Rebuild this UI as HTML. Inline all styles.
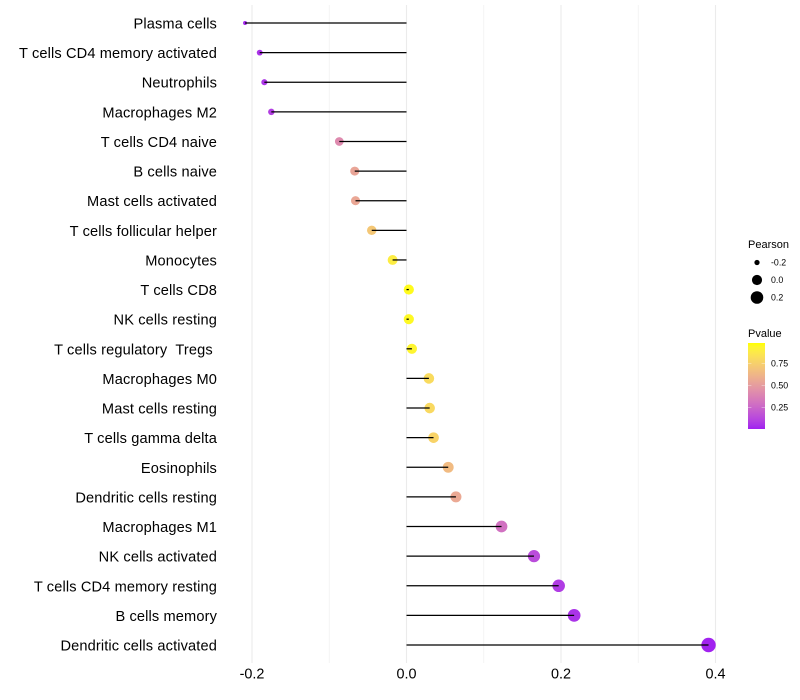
<!DOCTYPE html>
<html>
<head>
<meta charset="utf-8">
<style>
html,body{margin:0;padding:0;background:#fff;}
#chart{display:block;width:800px;height:700px;font-family:"Liberation Sans",sans-serif;}
</style>
</head>
<body>
<svg id="chart" xmlns="http://www.w3.org/2000/svg" width="800" height="700" viewBox="0 0 800 700">
  <defs>
    <linearGradient id="pgrad" x1="0" y1="1" x2="0" y2="0"></linearGradient>
  </defs>
  <g id="grid"></g>
  <g id="points"></g>
  <g id="stems"></g>
  <g id="ylabels"></g>
  <g id="xlabels"></g>
  <g id="legend-size">
    <text x="748" y="248" font-size="11" fill="#000">Pearson</text>
  </g>
  <g id="legend-color">
    <text x="748" y="337" font-size="11" fill="#000">Pvalue</text>
    <rect x="748" y="343" width="17" height="86" fill="url(#pgrad)"></rect>
  </g>
</svg>
<script>
const categories = ["Plasma cells","T cells CD4 memory activated","Neutrophils","Macrophages M2","T cells CD4 naive","B cells naive","Mast cells activated","T cells follicular helper","Monocytes","T cells CD8","NK cells resting","T cells regulatory  Tregs ","Macrophages M0","Mast cells resting","T cells gamma delta","Eosinophils","Dendritic cells resting","Macrophages M1","NK cells activated","T cells CD4 memory resting","B cells memory","Dendritic cells activated"];
const pearson = [-0.209,-0.19,-0.184,-0.175,-0.087,-0.067,-0.066,-0.045,-0.018,0.003,0.003,0.007,0.029,0.03,0.035,0.054,0.064,0.123,0.165,0.197,0.217,0.391];
const pvalue = [0.02,0.05,0.06,0.09,0.42,0.55,0.56,0.72,0.91,0.98,0.97,0.95,0.82,0.81,0.78,0.66,0.57,0.3,0.14,0.08,0.05,0.005];
const xTicks = [-0.2,0,0.2,0.4];
const xMinorTicks = [-0.1,0.1,0.3];
const xTickLabels = ["-0.2","0.0","0.2","0.4"];
const sizeLegendValues = [-0.2,0,0.2];
const sizeLegendLabels = ["-0.2","0.0","0.2"];
const colorLegendValues = [0.25,0.5,0.75];
const colorLegendLabels = ["0.25","0.50","0.75"];

const NS = "http://www.w3.org/2000/svg";
function x(v){ return 406.5 + v * 772.5; }
function y(i){ return 23 + i * (622 / (categories.length - 1)); }
function colorY(p){ return 429 - (p - 0.005) * 88; }
function radius(v){
  const lo = Math.min(...pearson), hi = Math.max(...pearson);
  const t = Math.max(0, (v - lo) / (hi - lo));
  return 2 + 5.2 * Math.sqrt(t);
}
function rgb2lab(c){
  const f = c.map(u => { u /= 255; return u > 0.04045 ? Math.pow((u + 0.055) / 1.055, 2.4) : u / 12.92; });
  const X = (0.4124*f[0]+0.3576*f[1]+0.1805*f[2]) / 0.95047;
  const Y = 0.2126*f[0]+0.7152*f[1]+0.0722*f[2];
  const Z = (0.0193*f[0]+0.1192*f[1]+0.9505*f[2]) / 1.08883;
  const g = t => t > 0.008856 ? Math.cbrt(t) : 7.787*t + 16/116;
  return [116*g(Y)-16, 500*(g(X)-g(Y)), 200*(g(Y)-g(Z))];
}
function lab2rgb(l){
  const fy = (l[0]+16)/116, fx = l[1]/500+fy, fz = fy-l[2]/200;
  const g = t => t*t*t > 0.008856 ? t*t*t : (t-16/116)/7.787;
  const X = g(fx)*0.95047, Y = g(fy), Z = g(fz)*1.08883;
  const r = [3.2406*X-1.5372*Y-0.4986*Z, -0.9689*X+1.8758*Y+0.0415*Z, 0.0557*X-0.2040*Y+1.0570*Z];
  return r.map(u => { u = u > 0.0031308 ? 1.055*Math.pow(u,1/2.4)-0.055 : 12.92*u; return Math.round(Math.min(1,Math.max(0,u))*255); });
}
const labLow = rgb2lab([160,32,240]), labHigh = rgb2lab([255,255,0]);
function color(p){
  const t = Math.min(1, Math.max(0, p));
  const c = lab2rgb(labLow.map((a,k) => a + (labHigh[k]-a)*t));
  return "rgb(" + c.join(",") + ")";
}
function make(tag, attrs, parent, text){
  const el = document.createElementNS(NS, tag);
  for (const k in attrs) el.setAttribute(k, attrs[k]);
  if (text !== undefined) el.textContent = text;
  parent.appendChild(el);
  return el;
}

const grid = document.getElementById("grid");
xMinorTicks.forEach(v => {
  const el = make("line", {x1:x(v), x2:x(v), y1:5, y2:663, stroke:"#f2f2f2", "stroke-width":0.8}, grid);
  
  
});
xTicks.forEach(v => {
  const el = make("line", {x1:x(v), x2:x(v), y1:5, y2:663, stroke:"#ebebeb", "stroke-width":1.1}, grid);
  
  
});

const pts = document.getElementById("points");
const stems = document.getElementById("stems");
const yl = document.getElementById("ylabels");
categories.forEach((name, i) => {
  const cy = y(i);
  const dot = make("circle", {cx:x(pearson[i]), cy:cy, r:radius(pearson[i]), fill:color(pvalue[i])}, pts);
  
  
  const stem = make("line", {x1:x(0), x2:x(pearson[i]), y1:cy, y2:cy, stroke:"#000", "stroke-width":1.25}, stems);
  
  
  const lab = make("text", {x:217, y:cy+5.5, "text-anchor":"end", "font-size":14.6, "letter-spacing":0.13, fill:"#000", style:"white-space:pre"}, yl, name);
  
  
});

const xl = document.getElementById("xlabels");
xTicks.forEach((v, i) => {
  const t = make("text", {x:x(v), y:678.5, "text-anchor":"middle", "font-size":14.4, fill:"#000"}, xl, xTickLabels[i]);
  
  
});

const ls = document.getElementById("legend-size");
sizeLegendValues.forEach((v, i) => {
  const cy = 262.5 + i * 17.5;
  const c = make("circle", {cx:757, cy:cy, r:radius(v), fill:"#000"}, ls);
  
  
  const t = make("text", {x:771, y:cy+3.2, "font-size":8.8, fill:"#000"}, ls, sizeLegendLabels[i]);
  
  
});

const grad = document.getElementById("pgrad");
for (let s = 0; s <= 20; s++) {
  const off = s / 20;
  make("stop", {offset:off, "stop-color":color(off)}, grad);
}
const lc = document.getElementById("legend-color");
colorLegendValues.forEach((p, i) => {
  const py = colorY(p);
  const a = make("line", {x1:748, x2:751.4, y1:py, y2:py, stroke:"#fff", "stroke-opacity":0.6, "stroke-width":0.6}, lc);
  
  
  const b = make("line", {x1:761.6, x2:765, y1:py, y2:py, stroke:"#fff", "stroke-opacity":0.6, "stroke-width":0.6}, lc);
  
  
  const t = make("text", {x:771, y:py+3.2, "font-size":8.8, fill:"#000"}, lc, colorLegendLabels[i]);
  
  
});
</script>
</body>
</html>
